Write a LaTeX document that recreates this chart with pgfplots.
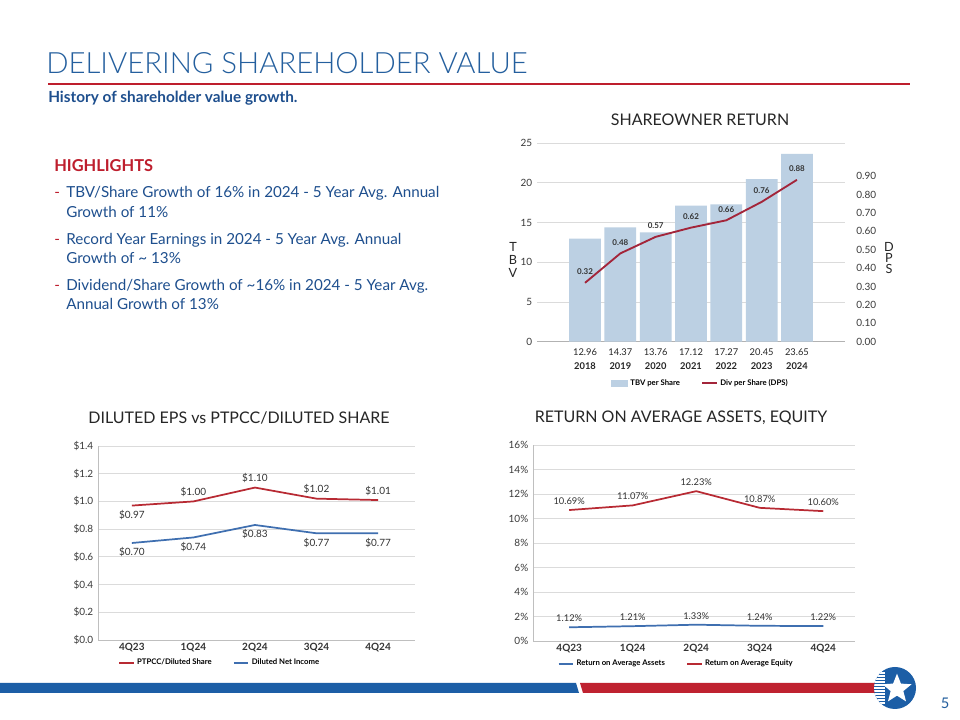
\documentclass[border=0pt]{standalone}
\usepackage{pgfplots}
\pgfplotsset{compat=1.18}
\usepackage{fontspec}
\setmainfont{Lato}
\IfFontExistsTF{Lato Light}{\newfontfamily\titlefont{Lato Light}}{\newfontfamily\titlefont{Lato}}
\usetikzlibrary{shapes.geometric}
\definecolor{ttlblue}{HTML}{245F9E}
\definecolor{txtblue}{HTML}{1E4F8E}
\definecolor{hred}{HTML}{BE1E2D}
\definecolor{barblue}{HTML}{BCD0E3}
\definecolor{dpsred}{HTML}{A3253A}
\definecolor{lred}{HTML}{B82A33}
\definecolor{lblue}{HTML}{3F6FB0}
\definecolor{footblue}{HTML}{1C5EA6}
\definecolor{footred}{HTML}{BF2230}
\definecolor{tick}{HTML}{3A3A3A}
\pgfplotsset{
  every axis/.append style={/pgf/number format/assume math mode=true},
  slide/.style={scale only axis, major tick length=0pt,
    tick style={draw=none},
    ymajorgrids, grid style={line width=0.6pt, color=black!14},
    ticklabel style={font=\fontsize{7.5}{9}\selectfont, text=tick},
    legend style={draw=none, fill=none, font=\bfseries\fontsize{5.8}{7}\selectfont, legend columns=2,
      /tikz/every even column/.append style={column sep=14pt}},
    legend cell align=left},
  lineleg/.style={legend image code/.code={\draw[##1, line width=1.3pt] (0cm,0cm) -- (0.38cm,0cm);}},
}
\begin{document}
\begin{tikzpicture}[x=0.75pt,y=0.75pt]
\useasboundingbox[fill=white] (0,0) rectangle (960,720);

\begin{scope}[shift={(0,720)}, yscale=-1]
% ---------- header ----------
\node[anchor=west, inner sep=0, text=ttlblue, font=\titlefont\fontsize{22}{24}\selectfont] at (46,63) {DELIVERING SHAREHOLDER VALUE};
\draw[hred, line width=1.1pt] (48,84) -- (910,84);
\node[anchor=west, inner sep=0, text=txtblue, font=\bfseries\fontsize{11.5}{13}\selectfont] at (48,98) {History of shareholder value growth.};

% ---------- highlights ----------
\node[anchor=base west, inner sep=0, text=hred, font=\bfseries\fontsize{12.3}{13}\selectfont] at (54,172) {HIGHLIGHTS};
\begin{scope}[every node/.style={anchor=base west, inner sep=0, text=txtblue, font=\fontsize{11.4}{13}\selectfont}]
\node[text=hred] at (54,198) {-};
\node at (66,198) {TBV/Share Growth of 16\% in 2024 - 5 Year Avg. Annual};
\node at (66,218) {Growth of 11\%};
\node[text=hred] at (54,245) {-};
\node at (66,245) {Record Year Earnings in 2024 - 5 Year Avg. Annual};
\node at (66,264) {Growth of \textasciitilde\ 13\%};
\node[text=hred] at (54,291) {-};
\node at (66,291) {Dividend/Share Growth of \textasciitilde16\% in 2024 - 5 Year Avg.};
\node at (66,310) {Annual Growth of 13\%};
\end{scope}

% ---------- chart titles ----------
\node[text=black!85, font=\fontsize{12}{14}\selectfont] at (700,120) {SHAREOWNER RETURN};
\node[text=black!85, font=\fontsize{12}{14}\selectfont] at (239,418) {DILUTED EPS vs PTPCC/DILUTED SHARE};
\node[text=black!85, font=\fontsize{12}{14}\selectfont] at (681,418) {RETURN ON AVERAGE ASSETS, EQUITY};

\node[align=center, inner sep=0, font=\fontsize{9.5}{9.5}\selectfont, text=black!85] at (513,260) {T\\B\\V};
\node[align=center, inner sep=0, font=\fontsize{9.5}{8.5}\selectfont, text=black!85] at (889,258) {D\\P\\S};

% ---------- footer ----------
\fill[footblue] (0,683) -- (576,683) -- (579,693) -- (0,693) -- cycle;
\fill[footred] (580,683) -- (875,683) -- (875,693) -- (583,693) -- cycle;
\fill[footblue] (895,688) circle (21);
\begin{scope}
\clip (895,688) circle (21);
\foreach \yy in {673,676,...,703} {\draw[white, line width=0.8pt] (872,\yy) -- (885,\yy);}
\end{scope}
\node[star, star points=5, star point ratio=2.3, fill=white, inner sep=0, minimum size=23pt] at (897,689) {};
\node[text=ttlblue, font=\fontsize{11}{12}\selectfont] at (945,703) {5};
\end{scope}

% ---------- chart 1: TBV bars ----------
\begin{axis}[slide, at={(402.75pt,283.725pt)}, anchor=south west,
  width=231pt, height=149pt,
  xmin=-1.36, xmax=7.36, ymin=0, ymax=25,
  ytick={0,5,10,15,20,25},
  extra y ticks={0}, extra y tick labels={},
  extra y tick style={grid style={line width=0.7pt, color=black!30}},
  axis line style={draw=none},
  xtick={0,1,2,3,4,5,6},
  xticklabels={{12.96\\\textbf{2018}},{14.37\\\textbf{2019}},{13.76\\\textbf{2020}},{17.12\\\textbf{2021}},{17.27\\\textbf{2022}},{20.45\\\textbf{2023}},{23.65\\\textbf{2024}}},
  xticklabel style={align=center, font=\fontsize{7}{10.5}\selectfont, text=black!85, yshift=-2pt},
  ybar, bar width=23.8pt]
\addplot[fill=barblue, draw=none] coordinates {(0,12.96) (1,14.37) (2,13.76) (3,17.12) (4,17.27) (5,20.45) (6,23.65)};
\end{axis}
\begin{axis}[slide, at={(402.75pt,283.725pt)}, anchor=south west,
  width=231pt, height=149pt,
  xmin=-1.36, xmax=7.36, ymin=0, ymax=1.08,
  ymajorgrids=false,
  axis y line*=right, axis x line=none,
  y axis line style={draw=none},
  ytick={0,0.1,0.2,0.3,0.4,0.5,0.6,0.7,0.8,0.9},
  yticklabel style={/pgf/number format/.cd, fixed, fixed zerofill, precision=2},
  yticklabel shift=5pt,
  legend style={at={(0.532,-0.21)}, anchor=center}]
\addlegendimage{legend image code/.code={\fill[barblue] (0cm,-0.07cm) rectangle (0.42cm,0.07cm);}}
\addlegendentry{TBV per Share}
\addplot[dpsred, line width=1.4pt, mark=none,
  legend image code/.code={\draw[dpsred, line width=1.4pt] (0cm,0cm) -- (0.38cm,0cm);},
  nodes near coords, point meta=explicit symbolic,
  every node near coord/.append style={font=\bfseries\fontsize{6}{7}\selectfont, text=black!80, anchor=south, yshift=2pt}]
  coordinates {(0,0.32)[0.32] (1,0.48)[0.48] (2,0.57)[0.57] (3,0.62)[0.62] (4,0.66)[0.66] (5,0.76)[0.76] (6,0.88)[0.88]};
\addlegendentry{Div per Share (DPS)}
\end{axis}

% ---------- chart 2: EPS ----------
\begin{axis}[slide, at={(73.5pt,60pt)}, anchor=south west,
  width=237.75pt, height=145.5pt,
  xmin=-0.55, xmax=4.6, ymin=0, ymax=1.4,
  axis lines*=left, axis line style={draw=black!25, line width=0.6pt},
  ytick={0,0.2,0.4,0.6,0.8,1.0,1.2,1.4},
  yticklabel={\$\pgfmathprintnumber[fixed,fixed zerofill,precision=1]{\tick}},
  xtick={0,1,2,3,4}, xticklabels={4Q23,1Q24,2Q24,3Q24,4Q24},
  xticklabel style={font=\bfseries\fontsize{7.5}{9}\selectfont, text=black!80, yshift=1.5pt},
  legend style={at={(0.385,-0.119)}, anchor=center},
  every node near coord/.append style={font=\fontsize{7.5}{9}\selectfont, text=black!80}]
\addplot[lred, line width=1.3pt, mark=none, lineleg] coordinates {(0,0.97) (1,1.00) (2,1.10) (3,1.02) (4,1.01)};
\addlegendentry{PTPCC/Diluted Share}
\addplot[lblue, line width=1.3pt, mark=none, lineleg] coordinates {(0,0.70) (1,0.74) (2,0.83) (3,0.77) (4,0.77)};
\addlegendentry{Diluted Net Income}
\addplot[draw=none, mark=none, forget plot, nodes near coords, point meta=explicit symbolic, nodes near coords align={above}]
  coordinates {(1,1.00)[\$1.00] (2,1.10)[\$1.10] (3,1.02)[\$1.02] (4,1.01)[\$1.01]};
\addplot[draw=none, mark=none, forget plot, nodes near coords, point meta=explicit symbolic, nodes near coords align={below}]
  coordinates {(0,0.97)[\$0.97] (0,0.70)[\$0.70] (1,0.74)[\$0.74] (2,0.83)[\$0.83] (3,0.77)[\$0.77] (4,0.77)[\$0.77]};
\end{axis}

% ---------- chart 3: ROA / ROE ----------
\begin{axis}[slide, at={(399.75pt,59.25pt)}, anchor=south west,
  width=241.5pt, height=147pt,
  xmin=-0.57, xmax=4.5, ymin=0, ymax=16,
  axis lines*=left, axis line style={draw=black!25, line width=0.6pt},
  ytick={0,2,4,6,8,10,12,14,16},
  yticklabel={\pgfmathprintnumber{\tick}\%},
  xtick={0,1,2,3,4}, xticklabels={4Q23,1Q24,2Q24,3Q24,4Q24},
  xticklabel style={font=\bfseries\fontsize{7.5}{9}\selectfont, text=black!80, yshift=1.5pt},
  legend style={at={(0.446,-0.117)}, anchor=center},
  every node near coord/.append style={font=\fontsize{7}{9}\selectfont, text=black!80}]
\addplot[lblue, line width=1.3pt, mark=none, lineleg, nodes near coords, point meta=explicit symbolic, nodes near coords align={above}]
  coordinates {(0,1.12)[1.12\%] (1,1.21)[1.21\%] (2,1.33)[1.33\%] (3,1.24)[1.24\%] (4,1.22)[1.22\%]};
\addlegendentry{Return on Average Assets}
\addplot[lred, line width=1.3pt, mark=none, lineleg, nodes near coords, point meta=explicit symbolic, nodes near coords align={above}]
  coordinates {(0,10.69)[10.69\%] (1,11.07)[11.07\%] (2,12.23)[12.23\%] (3,10.87)[10.87\%] (4,10.60)[10.60\%]};
\addlegendentry{Return on Average Equity}
\end{axis}
\end{tikzpicture}
\end{document}
